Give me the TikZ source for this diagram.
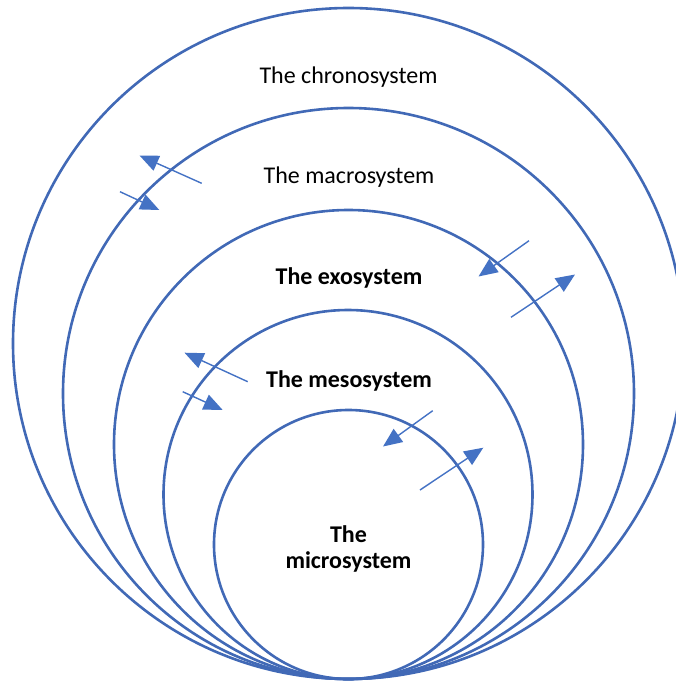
\documentclass[tikz,border=0pt]{standalone}
\usepackage{fontspec}
\setmainfont{Carlito}
\usetikzlibrary{arrows.meta}
\definecolor{ringblue}{HTML}{4169B6}
\definecolor{arrowblue}{HTML}{4472C4}
\begin{document}
\begin{tikzpicture}[x=1pt,y=-1pt,
  ring/.style={circle, draw=ringblue, line width=2.6pt, inner sep=0pt, minimum size=#1},
  label/.style={font=\fontsize{24}{29}\selectfont, text=black, align=center, inner sep=0pt},
  flow/.style={draw=arrowblue, line width=1.4pt, -{Triangle[length=19pt,width=16pt]}}]
\useasboundingbox (0,0) rectangle (676,681);

% nested systems, all touching at the bottom
\node[ring=671pt] (chrono) at (348.5,343.5) {};
\node[ring=571pt] (macro)  at (348.5,393.5) {};
\node[ring=469pt] (exo)    at (348.5,444.5) {};
\node[ring=369pt] (meso)   at (348,494.5) {};
\node[ring=269pt] (micro)  at (348.5,544.5) {};

% labels
\node[label] (tchrono) at (348.5,77.5) {The chronosystem};
\node[label] (tmacro)  at (349,177.5) {The macrosystem};
\node[label] (texo)    at (349,277.5) {\bfseries The exosystem};
\node[label] (tmeso)   at (349,380.5) {\bfseries The mesosystem};
\node[label] (tmicro)  at (348.5,548.5) {\bfseries The\\[-3pt]\bfseries microsystem};

% exchange arrows between neighbouring systems
\coordinate (a1s) at (201.7,183.3); \coordinate (a1e) at (139.5,155.5);
\coordinate (a2s) at (120,191.7);   \coordinate (a2e) at (159.3,210);
\coordinate (a3s) at (529,240.7);   \coordinate (a3e) at (478.5,276.5);
\coordinate (a4s) at (511,317.3);   \coordinate (a4e) at (575,274.5);
\coordinate (a5s) at (247.7,381.7); \coordinate (a5e) at (184.5,352.7);
\coordinate (a6s) at (182.7,391.7); \coordinate (a6e) at (222.7,410);
\coordinate (a7s) at (432.7,410.7); \coordinate (a7e) at (383,446.5);
\coordinate (a8s) at (420,490);     \coordinate (a8e) at (483.3,447.7);

\draw[flow] (a1s) -- (a1e);
\draw[flow] (a2s) -- (a2e);
\draw[flow] (a3s) -- (a3e);
\draw[flow] (a4s) -- (a4e);
\draw[flow] (a5s) -- (a5e);
\draw[flow] (a6s) -- (a6e);
\draw[flow] (a7s) -- (a7e);
\draw[flow] (a8s) -- (a8e);
\end{tikzpicture}
\end{document}
